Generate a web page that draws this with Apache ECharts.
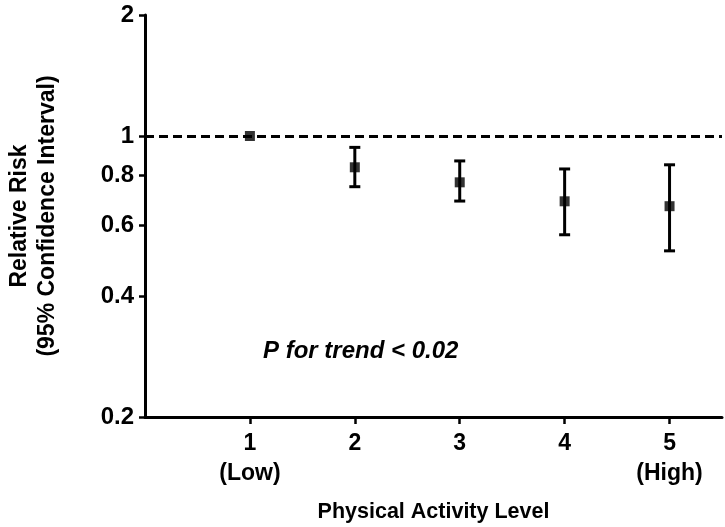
<!DOCTYPE html>
<html>
<head>
<meta charset="utf-8">
<script src="https://cdn.jsdelivr.net/npm/echarts@6/dist/echarts.min.js"></script>
<style>
  html, body { margin: 0; padding: 0; background: #fff; }
  #chart { width: 725px; height: 527px; }
</style>
</head>
<body>
<div id="chart"></div>
<script>
// ---- data ----
const levels = [1, 2, 3, 4, 5];
const levelLabels = ["1\n(Low)", "2", "3", "4", "5\n(High)"];
const relativeRisk = [1.0, 0.836, 0.767, 0.688, 0.669];
const ciLower = [null, 0.748, 0.689, 0.568, 0.518];
const ciUpper = [null, 0.937, 0.867, 0.828, 0.848];
const yTicks = [0.2, 0.4, 0.6, 0.8, 1, 2];
const yTickLabels = ["0.2", "0.4", "0.6", "0.8", "1", "2"];
const referenceValue = 1;
const xTitle = "Physical Activity Level";
const yTitle = "Relative Risk\n(95% Confidence Interval)";
const annotation = "P for trend < 0.02";

// ---- build ----
const FONT = "'Liberation Sans', Arial, sans-serif";
const pointData = levels.map((l, i) => [l, relativeRisk[i]]);
const ciData = levels.map((l, i) => [l, ciLower[i], ciUpper[i]]).filter(d => d[1] != null);

function labelFor(values, labels, v) {
  for (let i = 0; i < values.length; i++) {
    if (Math.abs(values[i] - v) < 1e-6) return labels[i];
  }
  return '';
}

const chart = echarts.init(document.getElementById('chart'), null, { renderer: 'canvas' });
chart.setOption({
  animation: false,
  backgroundColor: '#ffffff',
  grid: { left: 145, right: 3, top: 15, bottom: 110, containLabel: false, outerBoundsMode: 'none' },
  xAxis: {
    type: 'value',
    min: 0, max: 5.5, interval: 1,
    splitLine: { show: false },
    axisLine: { show: true, onZero: false, lineStyle: { color: '#000', width: 3 } },
    axisTick: { show: true, length: 7, customValues: levels, lineStyle: { color: '#000', width: 2.5 } },
    axisLabel: {
      customValues: levels,
      formatter: v => labelFor(levels, levelLabels, v),
      color: '#000', fontFamily: FONT, fontWeight: 'bold', fontSize: 23, lineHeight: 30, margin: 12
    },
    name: xTitle, nameLocation: 'middle', nameGap: 84,
    nameTextStyle: { color: '#000', fontFamily: FONT, fontWeight: 'bold', fontSize: 21.5 }
  },
  yAxis: {
    type: 'log', logBase: 10,
    min: 0.2, max: 2,
    splitLine: { show: false },
    minorTick: { show: false },
    axisLine: { show: true, lineStyle: { color: '#000', width: 3 } },
    axisTick: { show: true, length: 6, customValues: yTicks, lineStyle: { color: '#000', width: 2.5 } },
    axisLabel: {
      customValues: yTicks,
      formatter: v => labelFor(yTicks, yTickLabels, v),
      color: '#000', fontFamily: FONT, fontWeight: 'bold', fontSize: 24, margin: 11
    },
    name: yTitle, nameLocation: 'middle', nameRotate: 90, nameGap: 83,
    nameTextStyle: { color: '#000', fontFamily: FONT, fontWeight: 'bold', fontSize: 23, lineHeight: 28 }
  },
  graphic: [{
    type: 'text', left: 263, top: 339, silent: true,
    style: { text: annotation, fill: '#000', font: "italic bold 24px 'Liberation Sans', Arial, sans-serif" }
  }],
  series: [
    {
      type: 'custom',
      z: 2,
      data: ciData,
      encode: { x: 0, y: [1, 2] },
      renderItem: function (params, api) {
        const x = api.value(0);
        const lo = api.coord([x, api.value(1)]);
        const hi = api.coord([x, api.value(2)]);
        const hw = 5.5;
        const style = { stroke: '#000', lineWidth: 3 };
        return {
          type: 'group',
          children: [
            { type: 'line', shape: { x1: lo[0], y1: lo[1], x2: hi[0], y2: hi[1] }, style },
            { type: 'line', shape: { x1: lo[0] - hw, y1: lo[1], x2: lo[0] + hw, y2: lo[1] }, style },
            { type: 'line', shape: { x1: hi[0] - hw, y1: hi[1], x2: hi[0] + hw, y2: hi[1] }, style }
          ]
        };
      },
      markLine: {
        silent: true, symbol: 'none', animation: false,
        label: { show: false },
        lineStyle: { color: '#000', type: [9, 5], width: 3 },
        data: [{ yAxis: referenceValue }]
      }
    },
    {
      type: 'scatter',
      z: 5,
      symbol: 'rect',
      symbolSize: 10,
      itemStyle: { color: '#000' },
      data: pointData
    }
  ]
});
</script>
</body>
</html>
